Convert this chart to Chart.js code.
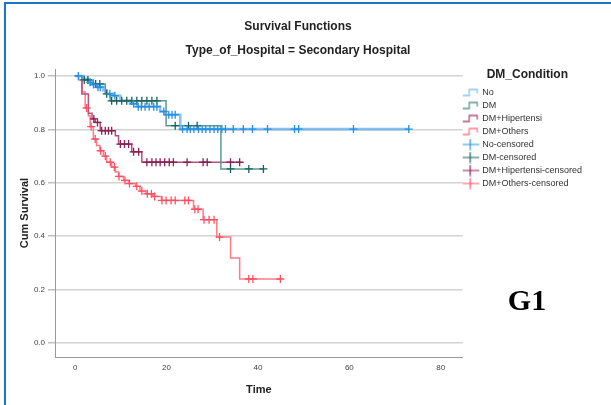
<!DOCTYPE html>
<html>
<head>
<meta charset="utf-8">
<script src="https://cdn.jsdelivr.net/npm/chart.js@4/dist/chart.umd.min.js"></script>
<style>
  body { margin: 0; background: #fff; }
  #wrap { position: relative; width: 611px; height: 405px; }
  #frame { position: absolute; left: 4px; top: 2px; right: 0; bottom: 0;
           border-left: 2px solid #1a74c9; border-top: 2px solid #1a74c9; pointer-events: none; }
</style>
</head>
<body>
<div id="wrap">
  <canvas id="chart" width="611" height="405"></canvas>
  <div id="frame"></div>
</div>
<script>
// tick labels
const xTicks = [0, 20, 40, 60, 80];
const yTicks = [0, 0.2, 0.4, 0.6, 0.8, 1.0];

const groups = ['No', 'DM', 'DM+Hipertensi', 'DM+Others'];

// survival steps: [time, survival after the step]
const noCurve = [[0,1],[1.8,0.989],[2.9,0.976],[3.6,0.968],[4.7,0.958],[6.2,0.946],[6.9,0.933],[8.4,0.926],
  [9.9,0.908],[12.0,0.896],[13.5,0.885],[18.6,0.867],[19.7,0.855],[23.0,0.801],[73,0.801]];
const dmCurve = [[0,1],[1.5,0.985],[4.0,0.97],[6.6,0.933],[7.7,0.907],[19.9,0.814],[31.9,0.652],[41.3,0.652]];
const dmHtCurve = [[0,1],[1.5,0.932],[2.9,0.86],[3.7,0.839],[4.4,0.826],[5.5,0.795],[8.8,0.776],[9.5,0.745],
  [12.4,0.716],[14.6,0.677],[36.2,0.677]];
const dmOthCurve = [[0,1],[0.8,0.985],[1.5,0.94],[2.2,0.88],[2.9,0.85],[3.3,0.81],[4.0,0.764],[4.7,0.74],
  [5.4,0.72],[6.2,0.70],[6.9,0.677],[8.0,0.659],[8.8,0.64],[9.5,0.624],[10.6,0.609],[11.7,0.597],[13.2,0.587],
  [14.2,0.569],[15.5,0.559],[17.0,0.549],[18.9,0.534],[25.9,0.501],[28.0,0.462],[31.0,0.397],[34.0,0.319],
  [36.0,0.24],[45.2,0.24]];

// censored cases: [time, survival]
const noCens = [[0.7,1],[3.3,0.976],[4.0,0.968],[5.0,0.958],[5.5,0.958],[7.6,0.933],[8.7,0.926],[12.8,0.896],
  [13.8,0.885],[14.5,0.885],[15.3,0.885],[16.2,0.885],[17.2,0.885],[17.9,0.885],[19.4,0.867],[20.5,0.855],
  [21.2,0.855],[21.9,0.855],[23.5,0.801],[24.5,0.801],[25.2,0.801],[26,0.801],[27,0.801],[27.8,0.801],
  [28.6,0.801],[29.5,0.801],[30.4,0.801],[31.2,0.801],[32.1,0.801],[32.9,0.801],[34.6,0.801],[36.8,0.801],
  [38.8,0.801],[42.1,0.801],[48,0.801],[48.9,0.801],[60.9,0.801],[73,0.801]];
const dmCens = [[2.0,0.985],[2.8,0.985],[4.5,0.97],[5.4,0.97],[6.9,0.933],[8.0,0.907],[9.1,0.907],[10.2,0.907],
  [11.3,0.907],[12.4,0.907],[13.5,0.907],[14.6,0.907],[15.7,0.907],[16.8,0.907],[17.9,0.907],[21.9,0.814],
  [24.8,0.814],[26.7,0.814],[34,0.652],[38,0.652],[41.2,0.652]];
const dmHtCens = [[4.1,0.839],[4.9,0.826],[5.8,0.795],[6.6,0.795],[7.3,0.795],[8.0,0.795],[9.9,0.745],
  [10.8,0.745],[11.7,0.745],[12.8,0.716],[13.9,0.716],[15.7,0.677],[16.8,0.677],[17.7,0.677],[18.6,0.677],
  [19.6,0.677],[20.6,0.677],[21.5,0.677],[24.5,0.677],[28,0.677],[28.9,0.677],[34,0.677],[36,0.677]];
const dmOthCens = [[2.5,0.88],[3.5,0.81],[4.4,0.764],[5.6,0.72],[6.6,0.70],[7.7,0.677],[8.6,0.659],[9.6,0.624],
  [10.9,0.609],[11.9,0.597],[13.5,0.587],[14.6,0.569],[15.8,0.559],[16.7,0.559],[17.4,0.549],[19,0.534],
  [19.9,0.534],[21,0.534],[21.9,0.534],[24,0.534],[24.8,0.534],[26.2,0.501],[26.9,0.501],[28.2,0.462],
  [29.3,0.462],[30.4,0.462],[31.6,0.397],[38,0.24],[38.9,0.24],[44.9,0.24]];

const curves = [noCurve, dmCurve, dmHtCurve, dmOthCurve];
const censored = [noCens, dmCens, dmHtCens, dmOthCens];

const lineColors = ['rgba(85,168,240,0.7)', '#5b9b93', '#b5507f', '#ff7b86'];
const crossColors = ['#2590e2', '#1b615a', '#8b1f56', '#ff5062'];
const lineWidths = [2.6, 1.5, 1.5, 1.5];

function toXY(arr) {
  return arr.map(p => ({ x: p[0], y: p[1] }));
}

// little legend icons (canvas is wider than the drawing so it sits left of centre)
function stepIcon(color) {
  const c = document.createElement('canvas');
  c.width = 24; c.height = 10;
  const g = c.getContext('2d');
  g.strokeStyle = color; g.lineWidth = 1.3;
  g.beginPath();
  g.moveTo(1, 8); g.lineTo(9, 8); g.lineTo(9, 2); g.lineTo(17, 2); g.lineTo(17, 6);
  g.stroke();
  return c;
}
function crossIcon(color) {
  const c = document.createElement('canvas');
  c.width = 24; c.height = 12;
  const g = c.getContext('2d');
  g.strokeStyle = color; g.lineWidth = 1.2;
  g.beginPath();
  g.moveTo(1, 6); g.lineTo(19, 6); g.moveTo(10, 0.5); g.lineTo(10, 11.5);
  g.stroke();
  return c;
}
const icons = lineColors.map(stepIcon).concat(crossColors.map(crossIcon));

const datasets = [];
groups.forEach((name, i) => {
  datasets.push({
    label: name,
    data: toXY(curves[i]),
    stepped: 'before',
    borderColor: lineColors[i],
    borderWidth: lineWidths[i],
    pointRadius: 0,
    fill: false,
    order: 1
  });
});
groups.forEach((name, i) => {
  datasets.push({
    label: name + '-censored',
    data: toXY(censored[i]),
    showLine: false,
    pointStyle: 'cross',
    pointRadius: 4,
    pointBorderWidth: 1.3,
    borderColor: crossColors[i],
    backgroundColor: crossColors[i],
    order: 0
  });
});

const g1Label = {
  id: 'g1Label',
  afterDraw(chart) {
    const ctx = chart.ctx;
    ctx.save();
    ctx.font = 'bold 30px "Liberation Serif", "Times New Roman", serif';
    ctx.fillStyle = '#000';
    ctx.textAlign = 'center';
    ctx.textBaseline = 'middle';
    ctx.fillText('G1', 527, 302);
    ctx.restore();
  }
};

Chart.defaults.font.family = 'Arial, "Liberation Sans", sans-serif';
Chart.defaults.color = '#333';

const ctx = document.getElementById('chart').getContext('2d');
const myChart = new Chart(ctx, {
  type: 'line',
  data: { datasets: datasets },
  plugins: [g1Label],
  options: {
    responsive: false,
    animation: false,
    layout: { padding: { left: 4, right: 19, top: 0, bottom: 0 } },
    plugins: {
      title: {
        display: true,
        text: ['Survival Functions', 'Type_of_Hospital = Secondary Hospital'],
        font: { size: 12, weight: 'bold', lineHeight: 2 },
        color: '#222',
        padding: { top: 15, bottom: 6 }
      },
      legend: {
        position: 'right',
        align: 'start',
        fullSize: false,
        title: {
          display: true,
          text: 'DM_Condition',
          font: { size: 12, weight: 'bold', lineHeight: 1 },
          color: '#222',
          padding: { top: 0, bottom: 3 }
        },
        labels: {
          font: { size: 9 },
          color: '#333',
          padding: 4,
          boxHeight: 9,
          usePointStyle: true,
          pointStyleWidth: 11,
          sort: (a, b) => a.datasetIndex - b.datasetIndex,
          generateLabels: chart => {
            const items = Chart.defaults.plugins.legend.labels.generateLabels(chart);
            items.forEach(it => { it.pointStyle = icons[it.datasetIndex]; });
            return items;
          }
        }
      },
      tooltip: { enabled: false }
    },
    scales: {
      x: {
        type: 'linear',
        min: -4.4,
        max: 84.8,
        afterBuildTicks: s => { s.ticks = xTicks.map(v => ({ value: v })); },
        afterFit: s => { s.height = 48; },
        ticks: { font: { size: 8 }, color: '#444', padding: 6 },
        grid: { display: false, drawTicks: false },
        border: { color: '#999', width: 1 },
        title: {
          display: true, text: 'Time',
          font: { size: 11, weight: 'bold' }, color: '#222',
          padding: { top: 10, bottom: 8 }
        }
      },
      y: {
        min: -0.052,
        max: 1.026,
        afterBuildTicks: s => { s.ticks = yTicks.map(v => ({ value: v })); },
        afterFit: s => { s.width = 51; },
        ticks: { font: { size: 8 }, color: '#444', padding: 3, callback: v => v.toFixed(1) },
        grid: { color: '#d3d3d3', lineWidth: 1.5, tickLength: 7, tickColor: '#c0c0c0' },
        border: { color: '#999', width: 1 },
        title: {
          display: true, text: 'Cum Survival',
          font: { size: 11, weight: 'bold' }, color: '#222',
          padding: { top: 14, bottom: 0 }
        }
      }
    }
  }
});
</script>
</body>
</html>
